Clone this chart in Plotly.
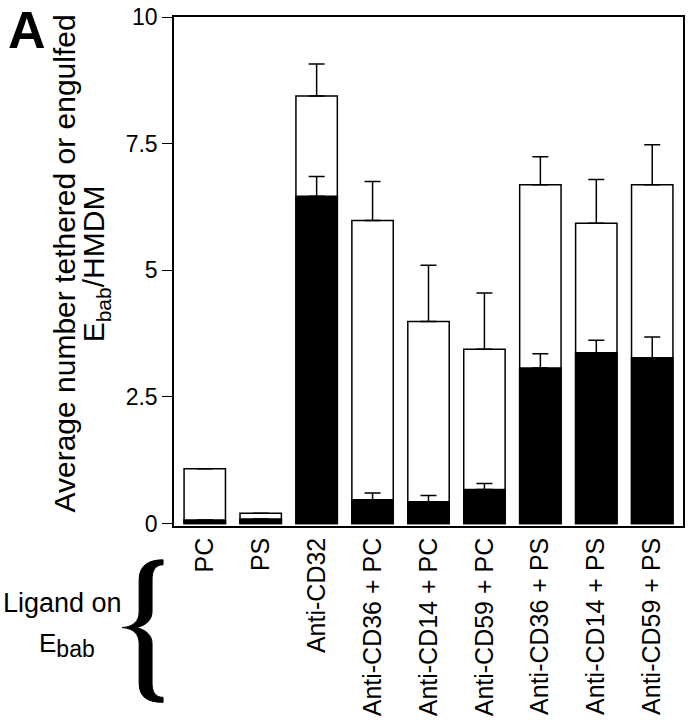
import plotly.graph_objects as go

FONT = "Liberation Sans, Arial, Helvetica, sans-serif"

categories = ["PC", "PS", "Anti-CD32", "Anti-CD36 + PC", "Anti-CD14 + PC",
              "Anti-CD59 + PC", "Anti-CD36 + PS", "Anti-CD14 + PS", "Anti-CD59 + PS"]
# total (tethered + engulfed) and engulfed-only means, with upper error
total = [1.08, 0.20, 8.44, 5.98, 3.99, 3.44, 6.69, 5.93, 6.69]
total_err = [None, None, 0.63, 0.77, 1.11, 1.11, 0.55, 0.86, 0.79]
engulfed = [0.07, 0.09, 6.46, 0.47, 0.43, 0.67, 3.07, 3.37, 3.27]
engulfed_err = [None, None, 0.39, 0.13, 0.12, 0.12, 0.28, 0.25, 0.41]
y_ticks = [0, 2.5, 5, 7.5, 10]
y_tick_text = ["0", "2.5", "5", "7.5", "10"]

fig = go.Figure()
fig.add_trace(go.Bar(
    x=categories, y=total, width=0.74,
    marker={"color": "white", "line": {"color": "black", "width": 1.5}},
    error_y={"type": "data", "symmetric": False, "array": total_err,
             "arrayminus": [0] * len(total), "color": "black", "thickness": 1.5, "width": 8},
))
fig.add_trace(go.Bar(
    x=categories, y=engulfed, width=0.74,
    marker={"color": "black", "line": {"color": "black", "width": 1.5}},
    error_y={"type": "data", "symmetric": False, "array": engulfed_err,
             "arrayminus": [0] * len(engulfed), "color": "black", "thickness": 1.5, "width": 8},
))

fig.update_layout(
    width=689, height=720,
    barmode="overlay",
    showlegend=False,
    plot_bgcolor="white", paper_bgcolor="white",
    font={"family": FONT, "color": "black", "size": 22},
    margin={"l": 174, "r": 4, "t": 15, "b": 194},
)
fig.update_yaxes(
    range=[-0.05, 10], tickvals=y_ticks, ticktext=y_tick_text,
    ticks="outside", ticklen=10, tickwidth=1.2, tickcolor="black",
    showline=True, linecolor="black", linewidth=1.5, mirror=True,
    showgrid=False, zeroline=False, tickfont={"size": 23},
)
fig.update_xaxes(
    range=[-0.55, 8.55], tickangle=-90, ticks="",
    showline=True, linecolor="black", linewidth=1.5, mirror=True,
    showgrid=False, tickfont={"size": 25},
)


# helpers: page pixels -> paper coordinates
def px_x(p):
    return (p - 174) / 511


def px_y(p):
    return (526 - p) / 511


def note(text, x, y, size, **kw):
    fig.add_annotation(text=text, xref="paper", yref="paper", x=px_x(x), y=px_y(y),
                       xanchor="center", yanchor="middle", showarrow=False,
                       font={"size": size}, **kw)


note("Average number tethered or engulfed", 64, 262, 30, textangle=-90)
note("E<sub>bab</sub>/HMDM", 95, 263, 30, textangle=-90)
note("<b>A</b>", 26, 28, 52)
note("Ligand on", 62, 603, 27)
note("E<sub><span style='font-size:23px'>bab</span></sub>", 67, 645, 26)

# curly brace drawn as a filled path (outer edge down, inner edge back up)
brace = [("M", 163, 560), ("C", 148, 560, 139, 566, 139, 580), ("L", 139, 612),
         ("C", 139, 622, 133, 627, 122, 628), ("C", 133, 629, 139, 634, 139, 644),
         ("L", 139, 684), ("C", 139, 698, 148, 703, 163, 703), ("L", 163, 698),
         ("C", 155, 698, 152, 692, 152, 684), ("L", 152, 644),
         ("C", 152, 636, 146, 630, 136, 628), ("C", 146, 626, 152, 620, 152, 612),
         ("L", 152, 580), ("C", 152, 571, 155, 565, 163, 565)]
parts = []
for seg in brace:
    cmd, pts = seg[0], seg[1:]
    coords = []
    for i in range(0, len(pts), 2):
        coords.append(f"{px_x(pts[i]):.4f},{px_y(pts[i + 1]):.4f}")
    parts.append(cmd + " " + " ".join(coords))
fig.add_shape(type="path", xref="paper", yref="paper", path=" ".join(parts) + " Z",
              fillcolor="black", line={"color": "black", "width": 1})

fig.write_html("out.html", config={"displayModeBar": False},
               post_script="document.body.style.margin='0px';")
